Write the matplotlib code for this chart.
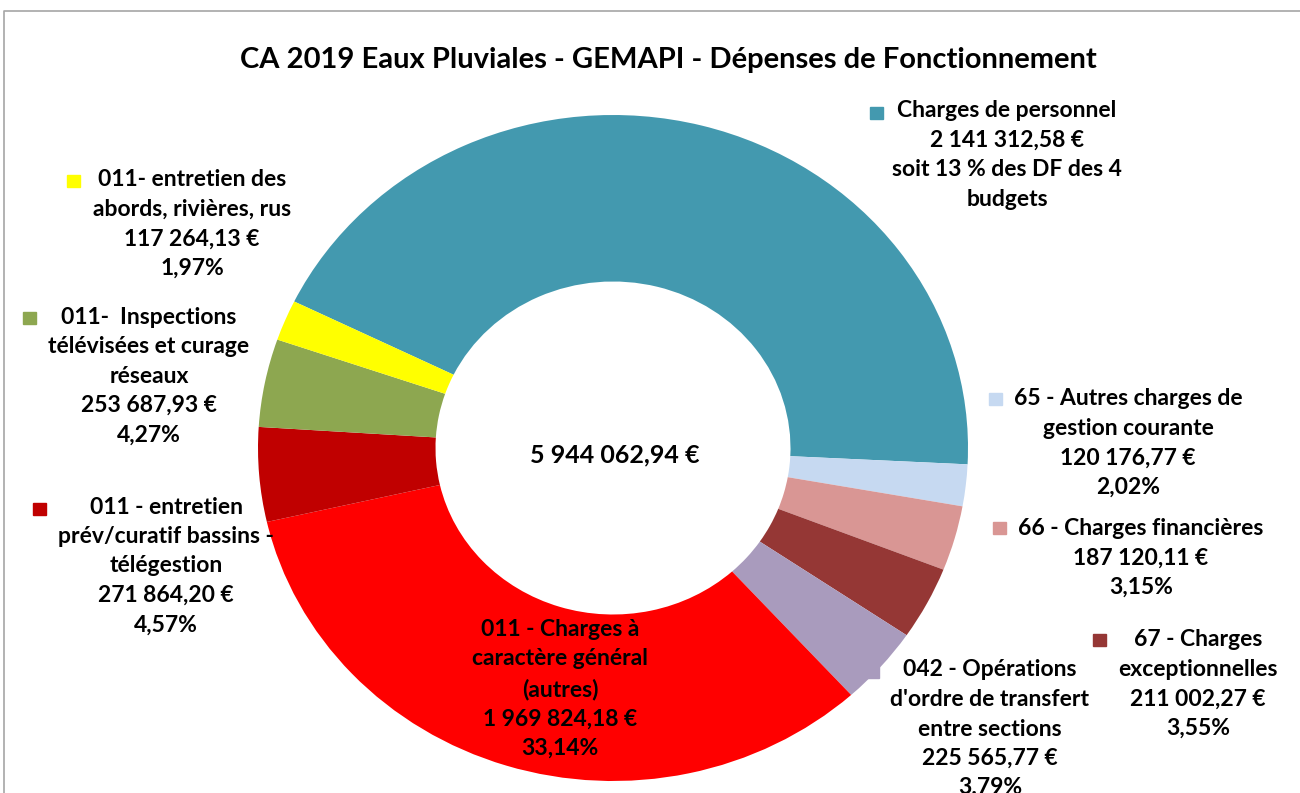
import matplotlib
matplotlib.use("Agg")
import matplotlib.pyplot as plt
from matplotlib.patches import Rectangle
from matplotlib.lines import Line2D

plt.rcParams['font.family'] = ['Lato', 'DejaVu Sans']

title = "CA 2019 Eaux Pluviales - GEMAPI - Dépenses de Fonctionnement"
total_label = "5 944 062,94 €"

categories = ["Charges de personnel",
              "65 - Autres charges de\ngestion courante",
              "66 - Charges financières",
              "67 - Charges\nexceptionnelles",
              "042 - Opérations\nd'ordre de transfert\nentre sections",
              "011 - Charges à\ncaractère général\n(autres)",
              "011 - entretien\nprév/curatif bassins -\ntélégestion",
              "011-  Inspections\ntélévisées et curage\nréseaux",
              "011- entretien des\nabords, rivières, rus"]
# slice sizes as drawn (personnel slice = total minus the other chapters)
values = [2587557.58, 120176.77, 187120.11, 211002.27, 225565.77,
          1969824.18, 271864.20, 253687.93, 117264.13]
amounts = ["2 141 312,58 €", "120 176,77 €", "187 120,11 €", "211 002,27 €",
           "225 565,77 €", "1 969 824,18 €", "271 864,20 €", "253 687,93 €",
           "117 264,13 €"]
percents = ["soit 13 % des DF des 4\nbudgets", "2,02%", "3,15%", "3,55%",
            "3.79%", "33,14%", "4,57%", "4,27%", "1,97%"]
colors = ["#4399AF", "#C6D9F1", "#D99694", "#953735", "#A99BBD",
          "#FF0000", "#C00000", "#8DA750", "#FFFF00"]

# label block centres (px) and legend key positions (px)
label_xy = [(1007, 155), (1128, 443), (1141, 558), (1198, 684), (990, 729),
            (560, 689), (166, 566), (149, 376), (192, 224)]
key_xy = [(870, 107), (989, 393), (993, 522), (1093, 634), (866, 666),
          None, (33, 503), (23, 312), (67, 175)]

W, H = 1300, 793
cx, cy, rx, ry = 613, 448, 355, 333

fig = plt.figure(figsize=(W / 100, H / 100), dpi=100)
ax = fig.add_axes([0, 0, 1, 1])
ax.pie(values, startangle=153.9, counterclock=False, colors=colors,
       radius=1, wedgeprops=dict(width=0.5, linewidth=0))
ax.set_aspect('auto')
ax.set_xlim((0 - cx) / rx, (W - cx) / rx)
ax.set_ylim((cy - H) / ry, cy / ry)
ax.axis('off')

# chart frame
fig.add_artist(Line2D([4 / W, 4 / W, 1], [0, 1 - 11 / H, 1 - 11 / H],
                      transform=fig.transFigure, color="#A6A6A6", lw=1.2))

fig.text(668 / W, 1 - 60 / H, title, ha='center', va='center',
         fontsize=21, fontweight='bold')
fig.text(615 / W, 1 - 455 / H, total_label, ha='center', va='center',
         fontsize=18, fontweight='bold')

for i in range(len(values)):
    txt = categories[i] + "\n" + amounts[i] + "\n" + percents[i]
    x, y = label_xy[i]
    fig.text(x / W, 1 - y / H, txt, ha='center', va='center',
             fontsize=16.5, fontweight='bold', linespacing=1.5, color='black')
    if key_xy[i] is not None:
        kx, ky = key_xy[i]
        fig.add_artist(Rectangle((kx / W, 1 - (ky + 12) / H), 13 / W, 12 / H,
                                 transform=fig.transFigure, color=colors[i],
                                 zorder=0 if i == 4 else 3))

fig.savefig("out.png", dpi=100)
